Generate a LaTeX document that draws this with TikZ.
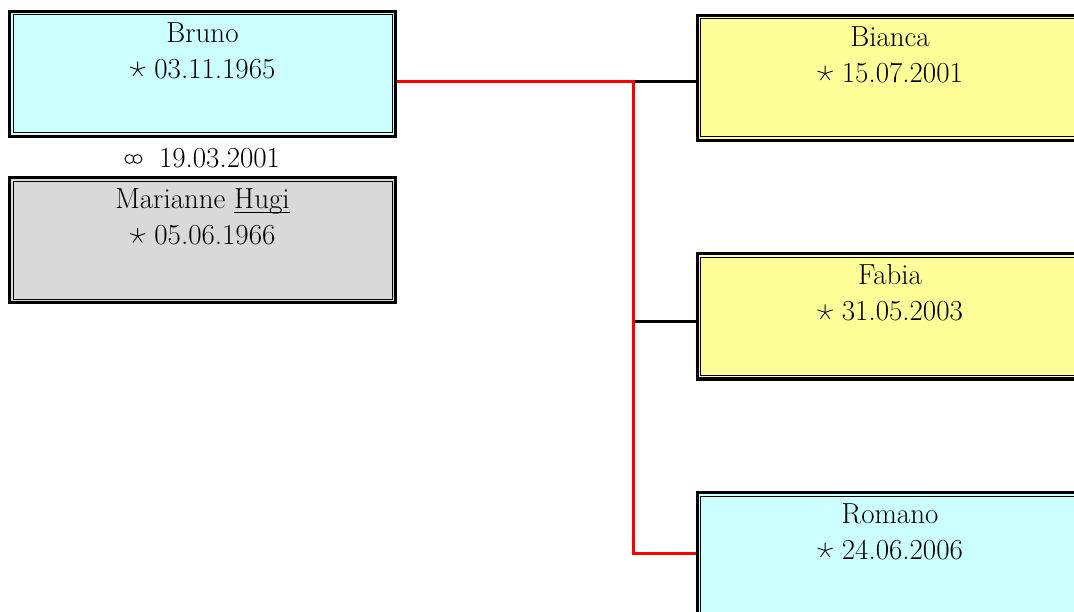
\documentclass[tikz,border=0pt]{standalone}
\usepackage{fontspec}
\definecolor{boycol}{HTML}{CCFFFF}
\definecolor{girlcol}{HTML}{FFFF99}
\definecolor{wifecol}{HTML}{D9D9D9}
\newsavebox{\starbox}
\newsavebox{\ulnamebox}
\newcommand{\bstar}{\usebox{\starbox}}
\newcommand{\ulname}[1]{\sbox{\ulnamebox}{#1}\rlap{\rule[-4.5pt]{\wd\ulnamebox}{1.1pt}}\usebox{\ulnamebox}}
\tikzset{
  person/.style={draw, line width=3pt, minimum width=386pt, minimum height=125pt, inner sep=0pt,
    path picture={\draw[line width=1pt] ([shift={(3.5pt,-3.5pt)}]path picture bounding box.north west) rectangle ([shift={(-3.5pt,3.5pt)}]path picture bounding box.south east);}},
  info/.style={anchor=north, align=center, font=\fontsize{29}{36}\selectfont, inner sep=0pt, yshift=-12pt},
  redline/.style={draw=red, line width=3pt},
  blackline/.style={draw=black, line width=3pt},
  marrtext/.style={font=\fontsize{29}{32}\selectfont, inner sep=0pt, anchor=base},
  ring/.style={draw, line width=0.9pt}
}
\begin{document}
\sbox{\starbox}{\begin{pgfpicture}\pgfsetlinewidth{0.85pt}%
\foreach \a in {90,162,234,306,18}{\pgfpathmoveto{\pgfpointorigin}\pgfpathlineto{\pgfpointpolar{\a}{8pt}}}%
\pgfusepath{stroke}\pgfsetbaseline{-8.5pt}\end{pgfpicture}}%
\begin{tikzpicture}[x=1pt,y=-1pt]
\useasboundingbox (0,0) rectangle (1074,612);
\node[person, fill=boycol, label={[info]north:{Bruno\\\bstar\ 03.11.1965}}] (bruno) at (202.5,74) {};
\node[marrtext] (marr) at (219.5,168) {19.03.2001};
\draw[ring] (129.5,159) circle[radius=4.4];
\draw[ring] (137.5,159) circle[radius=4.4];
\node[person, fill=wifecol, label={[info]north:{Marianne \ulname{Hugi}\\\bstar\ 05.06.1966}}] (marianne) at (202.5,240.5) {};
\node[person, fill=girlcol, label={[info]north:{Bianca\\\bstar\ 15.07.2001}}] (bianca) at (890,78) {};
\node[person, fill=girlcol, label={[info]north:{Fabia\\\bstar\ 31.05.2003}}] (fabia) at (890,316.5) {};
\node[person, fill=boycol, label={[info]north:{Romano\\\bstar\ 24.06.2006}}] (romano) at (890,555) {};
\coordinate (j1) at (633,82);
\coordinate (j2) at (633,322);
\coordinate (j3) at (633,553);
\draw[blackline] (j1) -- (bianca.west |- j1);
\draw[blackline] (j2) -- (fabia.west |- j2);
\draw[redline] (bruno.east |- j1) -- (j1) -- (j3) -- (romano.west |- j3);
\end{tikzpicture}
\end{document}
